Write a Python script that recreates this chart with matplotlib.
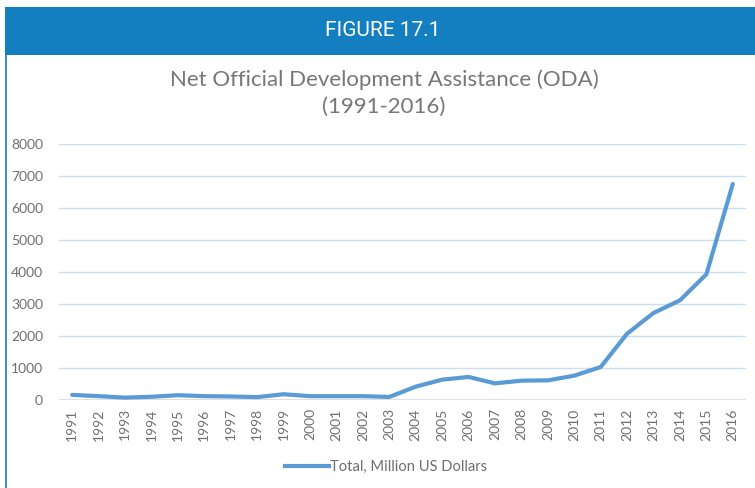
import matplotlib
matplotlib.use("Agg")
import matplotlib.pyplot as plt
from matplotlib.patches import Rectangle
from matplotlib.lines import Line2D

years = [str(y) for y in range(1991, 2017)]
oda = [160, 120, 75, 100, 150, 120, 110, 90, 180, 120, 120, 120, 95,
       417, 635, 720, 520, 604, 614, 760, 1031, 2073, 2719, 3115, 3927, 6750]
yticks = [0, 1000, 2000, 3000, 4000, 5000, 6000, 7000, 8000]
series_name = "Total, Million US Dollars"
title = "Net Official Development Assistance (ODA)\n(1991-2016)"
header = "FIGURE 17.1"

W, H = 755, 488
fig = plt.figure(figsize=(W / 100, H / 100), dpi=100)
fig.patch.set_facecolor("white")

font = "Lato"
gray = "#6f6f6f"
tgray = "#777777"

# header band
fig.add_artist(Rectangle((5 / W, 1 - 55 / H), 1, 48 / H, transform=fig.transFigure,
                         facecolor="#137fc1", edgecolor="none"))
fig.text(383 / W, 1 - 31 / H, header, color="white", fontsize=15, family="Roboto",
         ha="center", va="center")
# left border
fig.add_artist(Line2D([5.5 / W, 5.5 / W], [0, 1 - 55 / H], transform=fig.transFigure,
                      color="#137fc1", lw=1.2))

fig.text(384 / W, 1 - 93 / H, title, color=tgray, fontsize=16, family=font,
         ha="center", va="center", linespacing=1.4)

ax = fig.add_axes([59 / W, 88 / H, (746 - 59) / W, 256 / H])
x = list(range(len(years)))
ax.plot(x, oda, color="#5b9bd5", lw=3, solid_capstyle="round", solid_joinstyle="round",
        label=series_name, zorder=3)
ax.set_xlim(-0.5, len(years) - 0.5)
ax.set_ylim(0, 8000)
ax.set_yticks(yticks)
ax.set_yticklabels([str(v) for v in yticks], fontsize=10, color=gray, family=font)
ax.set_xticks(x)
ax.set_xticklabels(years, rotation=90, fontsize=10, color=gray, family=font)
ax.tick_params(length=0, pad=6)
ax.tick_params(axis="y", pad=11.5)
for v in yticks[1:]:
    ax.axhline(v, color="#c9dff2", lw=1, zorder=1)
ax.axhline(0, color="#d9d9d9", lw=1.2, zorder=2)
for s in ax.spines.values():
    s.set_visible(False)

leg = fig.legend(handles=[Line2D([], [], color="#5b9bd5", lw=3)], labels=[series_name],
                 loc="center", bbox_to_anchor=(386 / W, 1 - 467 / H), frameon=False,
                 prop={"family": font, "size": 10.6}, handlelength=3.0, handletextpad=0.1)
for t in leg.get_texts():
    t.set_color(gray)

fig.savefig("out.png", dpi=100)
